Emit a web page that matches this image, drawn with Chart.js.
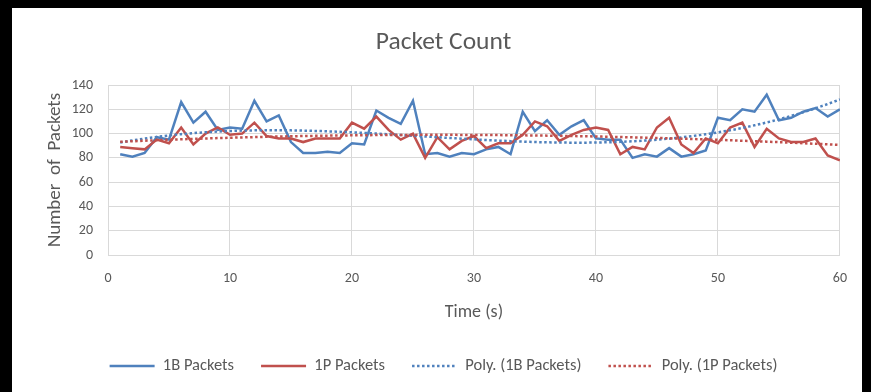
<!DOCTYPE html>
<html>
<head>
<meta charset="utf-8">
<script src="https://cdn.jsdelivr.net/npm/chart.js@4/dist/chart.umd.min.js"></script>
<style>
  html, body { margin: 0; padding: 0; background: #000; }
  body { width: 871px; height: 392px; position: relative; overflow: hidden; }
  #panel { position: absolute; left: 12px; top: 8px; width: 850px; height: 384px; background: #fff; }
  canvas { display: block; }
</style>
</head>
<body>
<div id="panel"><canvas id="chart" width="850" height="384"></canvas></div>
<script>
// Time in seconds
const seconds = [
  1, 2, 3, 4, 5, 6, 7, 8, 9, 10,
  11, 12, 13, 14, 15, 16, 17, 18, 19, 20,
  21, 22, 23, 24, 25, 26, 27, 28, 29, 30,
  31, 32, 33, 34, 35, 36, 37, 38, 39, 40,
  41, 42, 43, 44, 45, 46, 47, 48, 49, 50,
  51, 52, 53, 54, 55, 56, 57, 58, 59, 60
];

// Packets counted each second
const packets1B = [
  83, 81, 84, 97, 95, 126, 109, 118, 103, 105,
  104, 127, 110, 115, 93, 84, 84, 85, 84, 92,
  91, 119, 113, 108, 127, 83, 84, 81, 84, 83,
  87, 89, 83, 118, 102, 111, 99, 106, 111, 96,
  95, 95, 80, 83, 81, 88, 81, 83, 86, 113,
  111, 120, 118, 132, 111, 113, 118, 121, 114, 120
];

const packets1P = [
  89, 88, 87, 95, 92, 105, 91, 100, 105, 99,
  100, 109, 98, 96, 96, 93, 96, 96, 96, 109,
  104, 114, 103, 95, 100, 80, 97, 87, 94, 98,
  88, 92, 92, 99, 110, 106, 94, 99, 103, 105,
  103, 83, 89, 87, 105, 113, 91, 84, 96, 92,
  105, 109, 89, 104, 96, 93, 93, 96, 82, 78
];

const xTicks = [0, 10, 20, 30, 40, 50, 60];
const yTicks = [0, 20, 40, 60, 80, 100, 120, 140];

const BLUE = '#4f81bd';
const RED = '#c0504d';
const TEXT = '#595959';
const GRID = '#d9d9d9';
const FONT = 'Carlito, "Liberation Sans", sans-serif';
const DOTS = [2.5, 2.5];

// Least-squares polynomial trend (like a spreadsheet "Poly." trendline)
function polyFit(xs, ys, order) {
  const n = order + 1;
  const A = Array.from({ length: n }, () => new Array(n + 1).fill(0));
  for (let k = 0; k < xs.length; k++) {
    const p = [];
    for (let i = 0; i < n; i++) p.push(Math.pow(xs[k], i));
    for (let i = 0; i < n; i++) {
      for (let j = 0; j < n; j++) A[i][j] += p[i] * p[j];
      A[i][n] += p[i] * ys[k];
    }
  }
  for (let c = 0; c < n; c++) {
    let piv = c;
    for (let r = c + 1; r < n; r++) if (Math.abs(A[r][c]) > Math.abs(A[piv][c])) piv = r;
    [A[c], A[piv]] = [A[piv], A[c]];
    for (let r = 0; r < n; r++) {
      if (r === c) continue;
      const f = A[r][c] / A[c][c];
      for (let j = c; j <= n; j++) A[r][j] -= f * A[c][j];
    }
  }
  const coef = A.map((row, i) => row[n] / row[i]);
  return x => coef.reduce((s, c, i) => s + c * Math.pow(x, i), 0);
}

const toPoints = ys => seconds.map((x, i) => ({ x, y: ys[i] }));
const trend = (ys, order) => {
  const f = polyFit(seconds, ys, order);
  const pts = [];
  for (let x = seconds[0]; x <= seconds[seconds.length - 1] + 1e-9; x += 0.5) pts.push({ x, y: f(x) });
  return pts;
};

new Chart(document.getElementById('chart'), {
  type: 'line',
  data: {
    datasets: [
      { label: '1B Packets', data: toPoints(packets1B), borderColor: BLUE, backgroundColor: BLUE,
        borderWidth: 2.5, pointRadius: 0, tension: 0, order: 3 },
      { label: '1P Packets', data: toPoints(packets1P), borderColor: RED, backgroundColor: RED,
        borderWidth: 2.5, pointRadius: 0, tension: 0, order: 2 },
      { label: 'Poly. (1B Packets)', data: trend(packets1B, 3), borderColor: BLUE, backgroundColor: BLUE,
        borderWidth: 2.5, borderDash: DOTS, borderCapStyle: 'butt', pointRadius: 0, tension: 0, order: 1 },
      { label: 'Poly. (1P Packets)', data: trend(packets1P, 3), borderColor: RED, backgroundColor: RED,
        borderWidth: 2.5, borderDash: DOTS, borderCapStyle: 'butt', pointRadius: 0, tension: 0, order: 0 }
    ]
  },
  options: {
    responsive: false,
    animation: false,
    events: [],
    layout: { padding: { left: 32, right: 19, top: 10, bottom: 7.75 } },
    plugins: {
      tooltip: { enabled: false },
      title: {
        display: true,
        text: 'Packet Count',
        color: TEXT,
        font: { family: FONT, size: 25.5, weight: 'normal', lineHeight: 1.2 },
        padding: { top: 9.7, bottom: 26.7 }
      },
      legend: {
        position: 'bottom',
        labels: {
          color: TEXT,
          font: { family: FONT, size: 16.5 },
          usePointStyle: true,
          pointStyle: 'line',
          pointStyleWidth: 45,
          padding: 27,
          sort: (a, b) => a.datasetIndex - b.datasetIndex,
          // legend keys take the line width and dash of their dataset
          generateLabels: chart => Chart.defaults.plugins.legend.labels.generateLabels(chart).map(item => {
            const ds = chart.data.datasets[item.datasetIndex];
            item.lineWidth = ds.borderWidth;
            item.lineDash = ds.borderDash || [];
            item.lineCap = 'butt';
            item.strokeStyle = ds.borderColor;
            return item;
          })
        }
      }
    },
    scales: {
      x: {
        type: 'linear',
        min: xTicks[0],
        max: xTicks[xTicks.length - 1],
        afterBuildTicks: s => { s.ticks = xTicks.map(v => ({ value: v })); },
        afterFit: s => { s.height = 75.75; },
        grid: { color: GRID, lineWidth: 1, drawTicks: false },
        border: { color: GRID, width: 1 },
        ticks: { color: TEXT, font: { family: FONT, size: 14 }, padding: 15, maxRotation: 0, autoSkip: false },
        title: { display: true, text: 'Time (s)', color: TEXT, font: { family: FONT, size: 18 },
                 padding: { top: 0, bottom: 7.95 } }
      },
      y: {
        min: yTicks[0],
        max: yTicks[yTicks.length - 1],
        afterBuildTicks: s => { s.ticks = yTicks.map(v => ({ value: v })); },
        afterFit: s => { s.width = 64; },
        grid: { color: GRID, lineWidth: 1, drawTicks: false },
        border: { color: GRID, width: 1 },
        ticks: { color: TEXT, font: { family: FONT, size: 14 }, padding: 15, autoSkip: false },
        title: { display: true, text: 'Number  of  Packets', color: TEXT,
                 font: { family: FONT, size: 19 },
                 padding: { top: 0, bottom: 0 } }
      }
    }
  }
});
</script>
</body>
</html>
